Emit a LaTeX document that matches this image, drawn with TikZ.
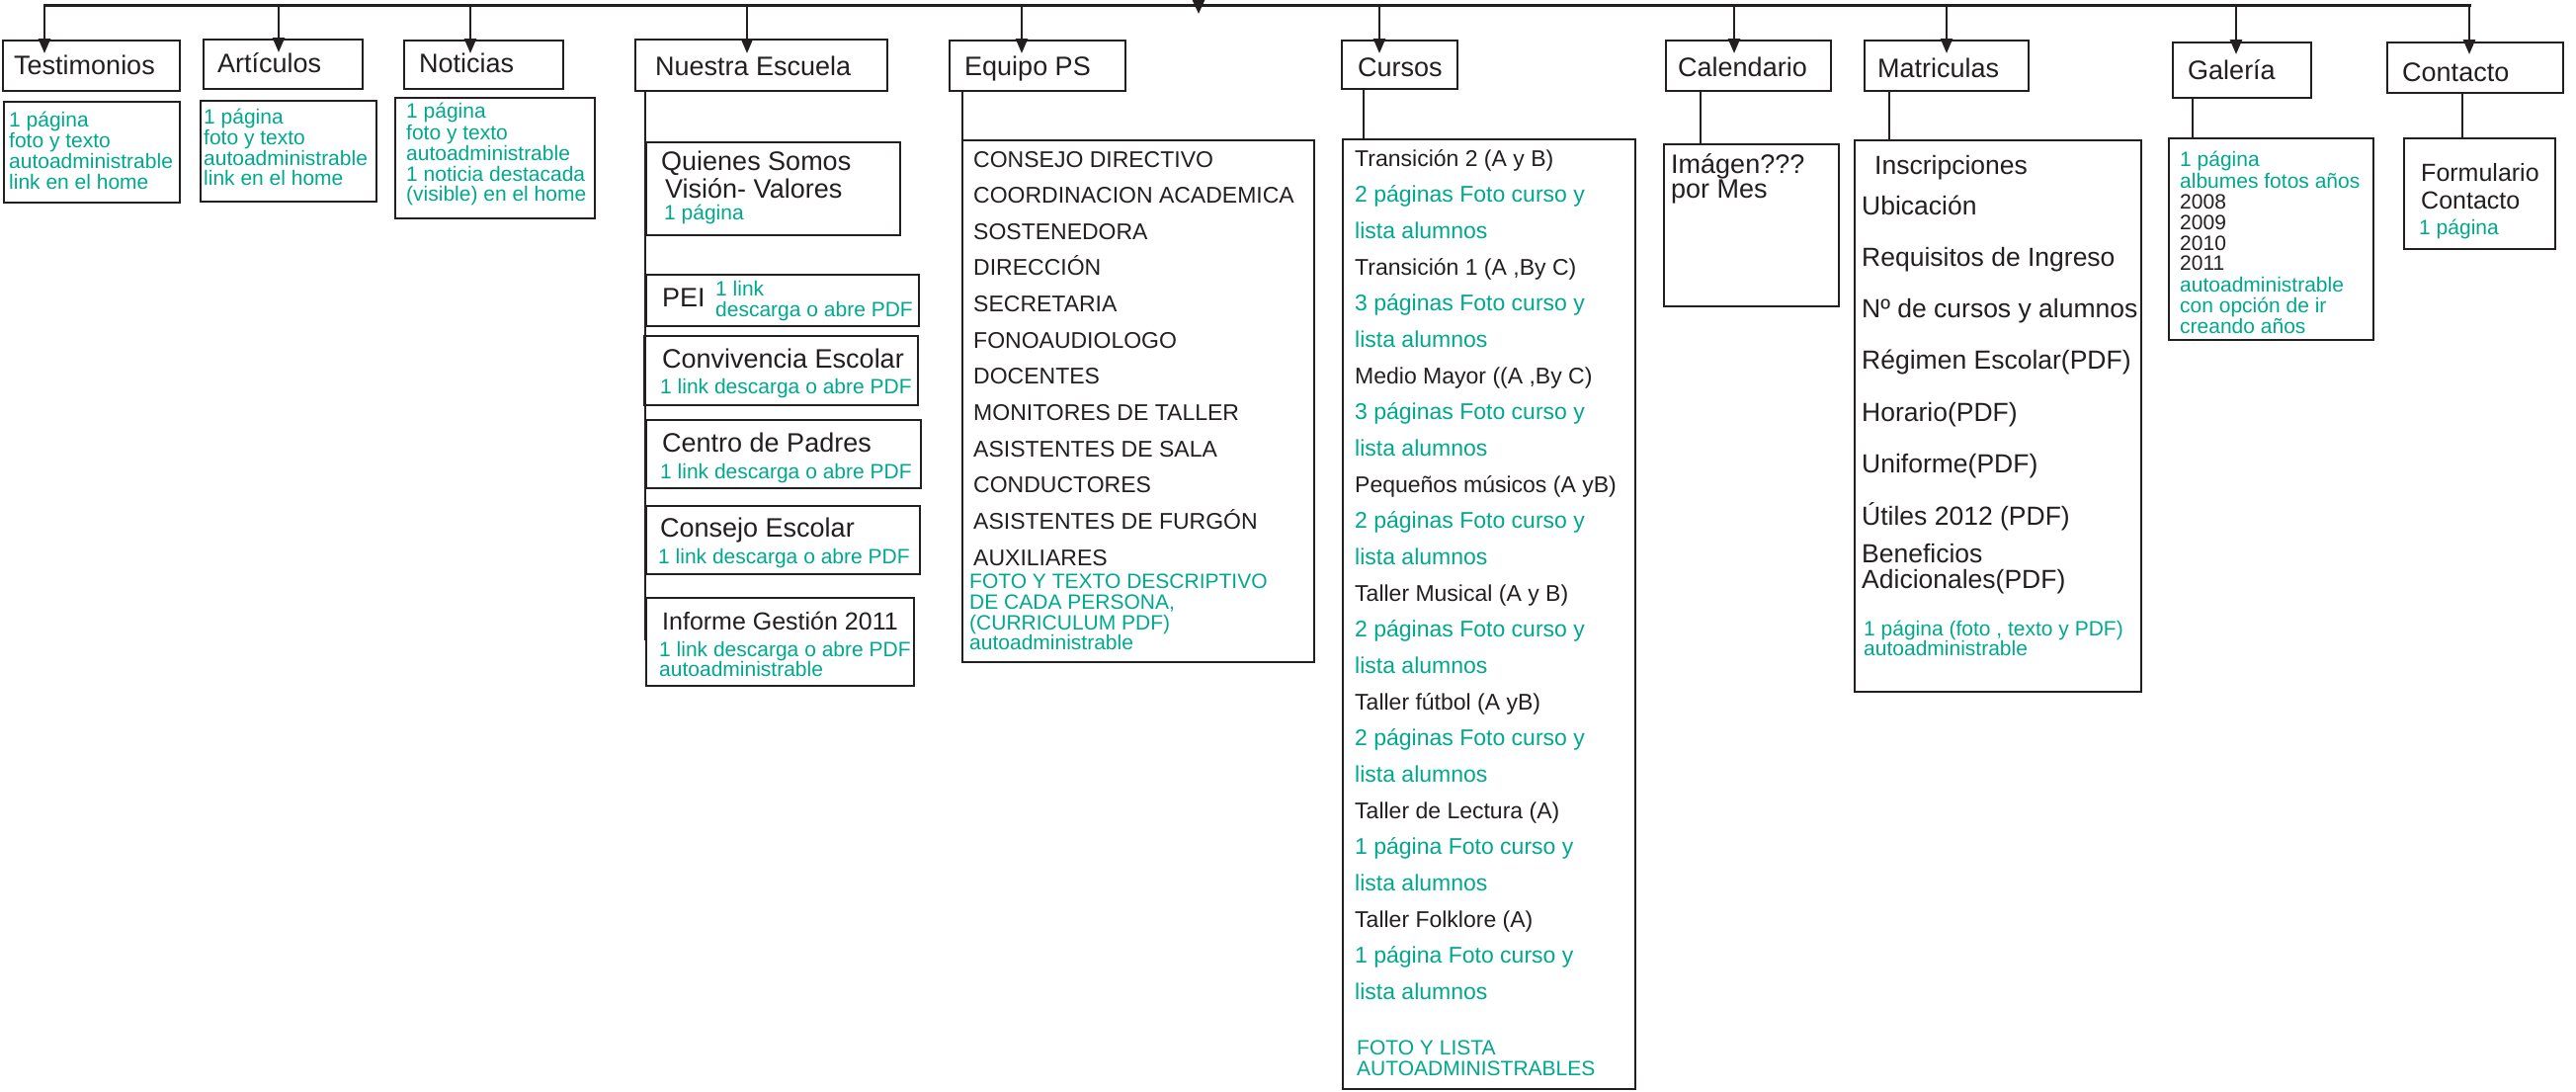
\documentclass[tikz,border=0pt]{standalone}
\usepackage{fontspec}
\setmainfont{Liberation Sans}
\usetikzlibrary{arrows.meta}
\definecolor{ink}{HTML}{231F20}
\definecolor{grn}{HTML}{00A88E}
\begin{document}
\begin{tikzpicture}[x=1pt,y=-1pt,
  bx/.style={draw=ink,line width=2pt,inner sep=0pt,anchor=north west},
  ln/.style={draw=ink,line width=2.5pt},
  arr/.style={draw=ink,line width=2.6pt,-{Triangle[length=15pt,width=12pt]}},
  bk/.style={anchor=base west,inner sep=0pt,text=ink,font=\fontsize{#1}{#1}\selectfont},
  bk/.default=27pt,
  gt/.style={anchor=base west,inner sep=0pt,text=grn,font=\fontsize{21pt}{21pt}\selectfont},
]
\useasboundingbox (0,0) rectangle (2607,1104);
\fill[white] (0,0) rectangle (2607,1104);

% heading boxes
\node[bx,minimum width=179pt,minimum height=51pt] (tb) at (2,40) {};
\node[bx,minimum width=161pt,minimum height=50pt] (ab) at (205,39) {};
\node[bx,minimum width=161pt,minimum height=49pt] (nb) at (408,40) {};
\node[bx,minimum width=255pt,minimum height=52pt] (eb) at (642,39) {};
\node[bx,minimum width=178pt,minimum height=51pt] (epb) at (960,40) {};
\node[bx,minimum width=117pt,minimum height=49pt] (cub) at (1357,40) {};
\node[bx,minimum width=167pt,minimum height=51pt] (cab) at (1685,40) {};
\node[bx,minimum width=166pt,minimum height=51pt] (mb) at (1886,40) {};
\node[bx,minimum width=140pt,minimum height=56pt] (gb) at (2198,42) {};
\node[bx,minimum width=178pt,minimum height=51pt] (cob) at (2415,42) {};

% content boxes
\node[bx,minimum width=178pt,minimum height=102pt] (tc) at (3,102) {};
\node[bx,minimum width=178pt,minimum height=102pt] (ac) at (202,101) {};
\node[bx,minimum width=202pt,minimum height=122pt] (nc) at (399,98) {};
\node[bx,minimum width=257pt,minimum height=94pt] (qs) at (653,143) {};
\node[bx,minimum width=276pt,minimum height=52pt] (pei) at (653,277) {};
\node[bx,minimum width=277pt,minimum height=70pt] (conv) at (651,339) {};
\node[bx,minimum width=278pt,minimum height=69pt] (cp) at (653,424) {};
\node[bx,minimum width=277pt,minimum height=69pt] (ce) at (653,511) {};
\node[bx,minimum width=271pt,minimum height=89pt] (ig) at (653,604) {};
\node[bx,minimum width=356pt,minimum height=528pt] (epc) at (973,141) {};
\node[bx,minimum width=296pt,minimum height=961pt] (cuc) at (1358,140) {};
\node[bx,minimum width=177pt,minimum height=164pt] (cac) at (1683,145) {};
\node[bx,minimum width=290pt,minimum height=558pt] (mc) at (1876,141) {};
\node[bx,minimum width=207pt,minimum height=204pt] (gc) at (2194,139) {};
\node[bx,minimum width=153pt,minimum height=112pt] (coc) at (2432,139) {};

% bus and arrows
\coordinate (busL) at (43.5,5);
\coordinate (busR) at (2500.5,5);
\coordinate (busT) at (0,3.8);
\draw[draw=ink,line width=3pt] (busL) -- (busR);
\coordinate (par-top) at (1213,-4);
\coordinate (par-tip) at (1213,14);
\draw[draw=ink,line width=2.5pt,-{Triangle[length=14pt,width=12pt]}] (par-top) -- (par-tip);
\foreach \n/\x/\yt in {tb/45/54, ab/282/53, nb/476/54, eb/756/54, epb/1034/54,
  cub/1396/54, cab/1755/54, mb/1970/54, gb/2263/55, cob/2499/55}{
  \coordinate (\n-tip) at (\x,\yt);
  \draw[arr] (\n-tip |- busT) -- (\n-tip);
}

% heading to content connectors
\foreach \h/\c/\x in {epb/epc/974, cub/cuc/1380, cab/cac/1721, mb/mc/1912, gb/gc/2219, cob/coc/2492}{
  \coordinate (\h-j) at (\x,0);
  \draw[ln] (\h.south -| \h-j) -- (\c.north -| \h-j);
}
\coordinate (sp-end) at (653,648);
\draw[ln] (eb.south -| sp-end) -- (sp-end);

% heading texts
\node[bk] (t-tb) at (14,75) {Testimonios};
\node[bk] (t-ab) at (220,73) {Artículos};
\node[bk] (t-nb) at (424,73) {Noticias};
\node[bk] (t-eb) at (663,76) {Nuestra Escuela};
\node[bk] (t-epb) at (976,76) {Equipo PS};
\node[bk] (t-cub) at (1374,77) {Cursos};
\node[bk] (t-cab) at (1698,77) {Calendario};
\node[bk] (t-mb) at (1900,78) {Matriculas};
\node[bk] (t-gb) at (2214,80) {Galería};
\node[bk] (t-cob) at (2431,82) {Contacto};

% Testimonios / Articulos / Noticias
\foreach \t/\y [count=\i] in {{1 página}/128, {foto y texto}/149, {autoadministrable}/170, {link en el home}/191}
  \node[gt] (tc-\i) at (9,\y) {\t};
\foreach \t/\y [count=\i] in {{1 página}/125, {foto y texto}/146, {autoadministrable}/167, {link en el home}/187}
  \node[gt] (ac-\i) at (206,\y) {\t};
\foreach \t/\y [count=\i] in {{1 página}/119, {foto y texto}/141, {autoadministrable}/162, {1 noticia destacada}/183, {(visible) en el home}/203}
  \node[gt] (nc-\i) at (411,\y) {\t};

% Nuestra Escuela
\node[bk] (qs-1) at (669,172) {Quienes Somos};
\node[bk] (qs-2) at (673,200) {Visión- Valores};
\node[gt] (qs-3) at (672,222) {1 página};
\node[bk] (pei-1) at (670,310) {PEI};
\node[gt] (pei-2) at (724,299) {1 link};
\node[gt] (pei-3) at (724,320) {descarga o abre PDF};
\node[bk] (conv-1) at (670,372) {Convivencia Escolar};
\node[gt] (conv-2) at (668,398) {1 link descarga o abre PDF};
\node[bk] (cp-1) at (670,457) {Centro de Padres};
\node[gt] (cp-2) at (668,484) {1 link descarga o abre PDF};
\node[bk] (ce-1) at (668,543) {Consejo Escolar};
\node[gt] (ce-2) at (666,570) {1 link descarga o abre PDF};
\node[bk=25pt] (ig-1) at (670,637) {Informe Gestión 2011};
\node[gt] (ig-2) at (667,664) {1 link descarga o abre PDF};
\node[gt] (ig-3) at (667,684) {autoadministrable};

% Equipo PS
\foreach \t [count=\i from 0] in {CONSEJO DIRECTIVO, COORDINACION ACADEMICA, SOSTENEDORA, DIRECCIÓN,
  SECRETARIA, FONOAUDIOLOGO, DOCENTES, MONITORES DE TALLER, ASISTENTES DE SALA, CONDUCTORES,
  ASISTENTES DE FURGÓN, AUXILIARES}
  \node[bk=23pt] (ep-\i) at (985,{169+36.64*\i}) {\t};
\foreach \t/\y [count=\i] in {{FOTO Y TEXTO DESCRIPTIVO}/595, {DE CADA PERSONA,}/616, {(CURRICULUM PDF)}/637, {autoadministrable}/657}
  \node[gt] (epg-\i) at (981,\y) {\t};

% Cursos
\foreach \t/\c [count=\i from 0] in {
  {Transición 2 (A y B)}/ink, {2 páginas Foto curso y}/grn, {lista alumnos}/grn,
  {Transición 1 (A ,By C)}/ink, {3 páginas Foto curso y}/grn, {lista alumnos}/grn,
  {Medio Mayor ((A ,By C)}/ink, {3 páginas Foto curso y}/grn, {lista alumnos}/grn,
  {Pequeños músicos (A yB)}/ink, {2 páginas Foto curso y}/grn, {lista alumnos}/grn,
  {Taller Musical (A y B)}/ink, {2 páginas Foto curso y}/grn, {lista alumnos}/grn,
  {Taller fútbol (A yB)}/ink, {2 páginas Foto curso y}/grn, {lista alumnos}/grn,
  {Taller de Lectura (A)}/ink, {1 página Foto curso y}/grn, {lista alumnos}/grn,
  {Taller Folklore (A)}/ink, {1 página Foto curso y}/grn, {lista alumnos}/grn}
  \node[bk=23pt,text=\c] (cu-\i) at (1371,{168+36.67*\i}) {\t};
\node[gt] (cug-1) at (1373,1067) {FOTO Y LISTA};
\node[gt] (cug-2) at (1373,1088) {AUTOADMINISTRABLES};

% Calendario
\node[bk] (ca-1) at (1691,175) {Imágen???};
\node[bk] (ca-2) at (1691,200) {por Mes};

% Matriculas
\node[bk=26.5pt] (m-0) at (1897,176) {Inscripciones};
\foreach \t/\y [count=\i] in {{Ubicación}/217, {Requisitos de Ingreso}/269, {Nº de cursos y alumnos}/321,
  {Régimen Escolar(PDF)}/373, {Horario(PDF)}/426, {Uniforme(PDF)}/478, {Útiles 2012 (PDF)}/531,
  {Beneficios}/569, {Adicionales(PDF)}/595}
  \node[bk=26.5pt] (m-\i) at (1884,\y) {\t};
\node[gt] (mg-1) at (1886,643) {1 página (foto , texto y PDF)};
\node[gt] (mg-2) at (1886,663) {autoadministrable};

% Galeria
\foreach \t/\c/\y [count=\i] in {{1 página}/grn/168, {albumes fotos años}/grn/190, {2008}/ink/211,
  {2009}/ink/232, {2010}/ink/253, {2011}/ink/273, {autoadministrable}/grn/295,
  {con opción de ir}/grn/316, {creando años}/grn/337}
  \node[gt,text=\c] (g-\i) at (2206,\y) {\t};

% Contacto
\node[bk=25pt] (co-1) at (2450,183) {Formulario};
\node[bk=25pt] (co-2) at (2450,211) {Contacto};
\node[gt] (co-3) at (2448,237) {1 página};
\end{tikzpicture}
\end{document}
